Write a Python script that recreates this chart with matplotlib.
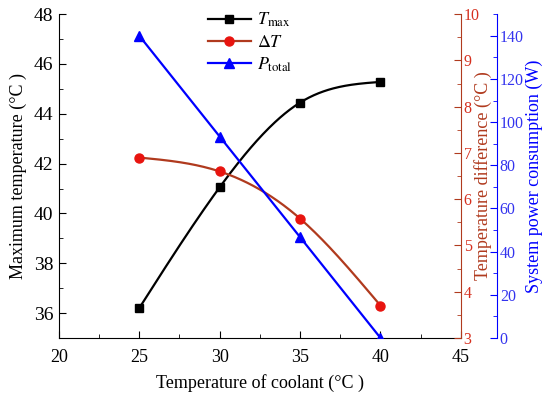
import matplotlib

matplotlib.use("Agg")
import matplotlib.pyplot as plt  # noqa: E402
import numpy as np  # noqa: E402
from matplotlib.ticker import MultipleLocator  # noqa: E402

plt.rcParams["font.family"] = ["Liberation Serif", "DejaVu Serif"]
plt.rcParams["mathtext.fontset"] = "stix"
plt.rcParams["font.size"] = 13.5

# ---------- data -----------------------------------------------------------
coolant = [25, 30, 35, 40]
t_max = [36.2, 41.05, 44.45, 45.28]
delta_t = [6.9, 6.6, 5.58, 3.7]
p_total = [140.0, 93.3, 46.7, 0.0]

BROWN = "#b03a1e"
RED = "#e8140f"
BLUE = "#0000ff"


def smooth(x, y, n=200):
    """Natural cubic spline through the points (for drawing only)."""
    x = np.asarray(x, float)
    y = np.asarray(y, float)
    k = len(x)
    h = np.diff(x)
    a = np.zeros((k, k))
    b = np.zeros(k)
    a[0, 0] = a[-1, -1] = 1.0
    for i in range(1, k - 1):
        a[i, i - 1] = h[i - 1]
        a[i, i] = 2 * (h[i - 1] + h[i])
        a[i, i + 1] = h[i]
        b[i] = 6 * ((y[i + 1] - y[i]) / h[i] - (y[i] - y[i - 1]) / h[i - 1])
    m = np.linalg.solve(a, b)
    xs = np.linspace(x[0], x[-1], n)
    idx = np.clip(np.searchsorted(x, xs) - 1, 0, k - 2)
    x0, x1 = x[idx], x[idx + 1]
    hh = x1 - x0
    t0, t1 = x1 - xs, xs - x0
    ys = (m[idx] * t0 ** 3 / (6 * hh) + m[idx + 1] * t1 ** 3 / (6 * hh)
          + (y[idx] / hh - m[idx] * hh / 6) * t0
          + (y[idx + 1] / hh - m[idx + 1] * hh / 6) * t1)
    return xs, ys


fig = plt.figure(figsize=(5.5, 3.93), dpi=100)
ax = fig.add_axes([0.107, 0.140, 0.731, 0.824])
ax2 = ax.twinx()
ax3 = ax.twinx()

# Tmax
xs, ys = smooth(coolant, t_max)
ax.plot(xs, ys, color="black", lw=1.6)
ax.plot(coolant, t_max, ls="none", marker="s", ms=6, color="black")
l1, = ax.plot([], [], color="black", lw=1.6, marker="s", ms=6,
              label=r"$T_{\mathrm{max}}$")

# delta T
xs, ys = smooth(coolant, delta_t)
ax2.plot(xs, ys, color=BROWN, lw=1.6)
ax2.plot(coolant, delta_t, ls="none", marker="o", ms=6.5, color=RED)
l2, = ax2.plot([], [], color=BROWN, lw=1.6, marker="o", ms=6.5,
               mfc=RED, mec=RED, label=r"$\Delta T$")

# P total
l3, = ax3.plot(coolant, p_total, color=BLUE, lw=1.6, marker="^", ms=7,
               label=r"$P_{\mathrm{total}}$")

ax.set_xlim(20, 45)
ax.set_ylim(35, 48)
ax.xaxis.set_major_locator(MultipleLocator(5))
ax.xaxis.set_minor_locator(MultipleLocator(2.5))
ax.yaxis.set_major_locator(MultipleLocator(2))
ax.yaxis.set_minor_locator(MultipleLocator(1))
ax.set_xlabel("Temperature of coolant (°C )", fontsize=13, labelpad=6)
ax.set_ylabel("Maximum temperature (°C )", fontsize=13, labelpad=5)
ax.spines["top"].set_visible(False)
ax.spines["right"].set_visible(False)
ax.tick_params(which="both", direction="in", top=False, right=False)
ax.tick_params(axis="x", pad=8, labelsize=13)
ax.tick_params(axis="y", pad=4, labelsize=14)
ax.tick_params(which="major", length=5)
ax.tick_params(which="minor", length=3)

ax2.set_ylim(3, 10)
ax2.yaxis.set_major_locator(MultipleLocator(1))
ax2.yaxis.set_minor_locator(MultipleLocator(0.5))
ax2.set_ylabel("Temperature difference (°C )", color=BROWN, fontsize=13,
               labelpad=-4)
for s in ("top", "left", "bottom"):
    ax2.spines[s].set_visible(False)
ax2.spines["right"].set_color(BROWN)
ax2.tick_params(which="both", direction="in", colors=BROWN,
                labelcolor="#d6301f", pad=2, labelsize=11.5)
ax2.tick_params(which="major", length=5)
ax2.tick_params(which="minor", length=3)

ax3.set_ylim(0, 150)
ax3.yaxis.set_major_locator(MultipleLocator(20))
ax3.yaxis.set_minor_locator(MultipleLocator(10))
ax3.set_ylabel("System power consumption (W)", color=BLUE, fontsize=13,
               labelpad=1)
ax3.spines["right"].set_position(("axes", 1.09))
for s in ("top", "left", "bottom"):
    ax3.spines[s].set_visible(False)
ax3.spines["right"].set_color(BLUE)
ax3.tick_params(which="both", direction="in", colors=BLUE,
                labelcolor="#3333ee", pad=2, labelsize=11.5)
ax3.tick_params(which="major", length=5)
ax3.tick_params(which="minor", length=3)

ax.legend(handles=[l1, l2, l3], loc="upper left",
          bbox_to_anchor=(0.33, 1.06), frameon=False, fontsize=13,
          handlelength=2.4, labelspacing=0.25, handletextpad=0.3)

fig.savefig("out.png", dpi=100)
